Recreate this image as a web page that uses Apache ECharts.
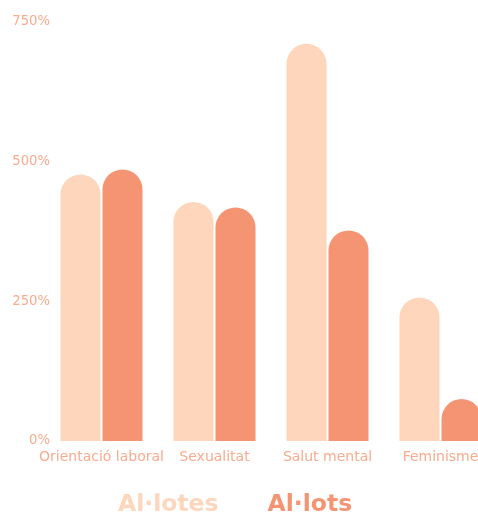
<!DOCTYPE html>
<html><head><meta charset="utf-8">
<script src="https://cdn.jsdelivr.net/npm/echarts@6/dist/echarts.min.js"></script>
<style>html,body{margin:0;padding:0;background:#fff}#c{width:478px;height:517px}</style>
</head><body><div id="c"></div>
<script>
const categories = ['Orientació laboral', 'Sexualitat', 'Salut mental', 'Feminisme'];
const allotes = [477, 428, 711, 257];
const allots = [486, 418, 377, 75];
const yTicks = [0, 250, 500, 750];

const chart = echarts.init(document.getElementById('c'));
chart.setOption({
  animation: false,
  grid: { left: 45, top: 22, bottom: 76, width: 452, containLabel: false, outerBoundsMode: 'none' },
  legend: {
    bottom: -5,
    left: 108,
    itemWidth: 0, itemHeight: 0, itemGap: 44,
    icon: 'rect',
    data: [
      { name: 'Al·lotes', textStyle: { color: '#fdd6bb' } },
      { name: 'Al·lots', textStyle: { color: '#f59473' } }
    ],
    textStyle: { fontFamily: 'DejaVu Sans', fontWeight: 'bold', fontSize: 23.5 }
  },
  xAxis: {
    type: 'category', data: categories,
    axisLine: { show: false }, axisTick: { show: false },
    axisLabel: { color: '#f8ab8e', fontFamily: 'DejaVu Sans', fontSize: 14, margin: 9, interval: 0 }
  },
  yAxis: {
    type: 'value', min: yTicks[0], max: yTicks[yTicks.length - 1], interval: 250,
    axisLine: { show: false }, axisTick: { show: false }, splitLine: { show: false },
    axisLabel: { formatter: '{value}%', color: '#f8ab8e', fontFamily: 'DejaVu Sans', fontSize: 13.2, margin: -5 }
  },
  series: [
    { name: 'Al·lotes', type: 'bar', data: allotes, barWidth: 40, barGap: '5%',
      itemStyle: { color: '#fdd6bb', borderRadius: [20, 20, 0, 0] } },
    { name: 'Al·lots', type: 'bar', data: allots, barWidth: 40, barGap: '5%',
      itemStyle: { color: '#f59473', borderRadius: [20, 20, 0, 0] } }
  ]
});
</script></body></html>
